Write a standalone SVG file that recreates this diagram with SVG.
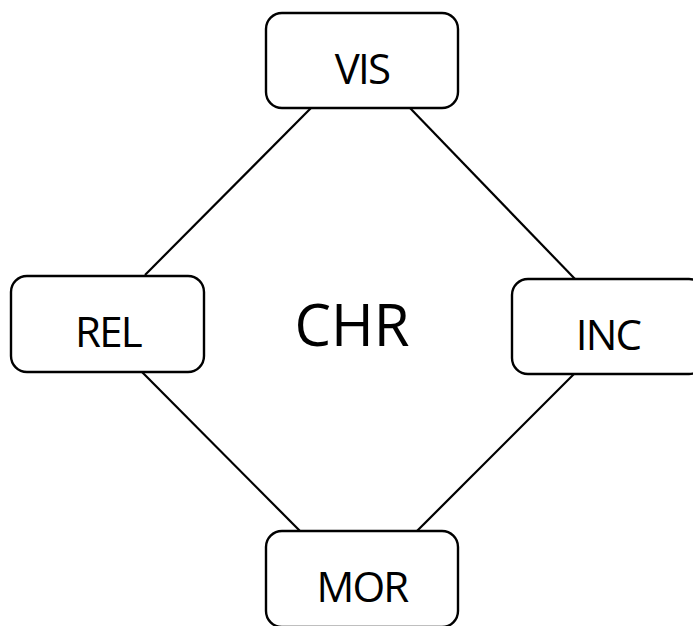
<svg xmlns="http://www.w3.org/2000/svg" width="693" height="626" viewBox="0 0 693 626">
<style>
.box{fill:#fff;stroke:#000;stroke-width:2.4}
.lbl{font-family:"Open Sans","Noto Sans",sans-serif;font-size:42px;font-weight:500;letter-spacing:-1.8px;text-anchor:middle;fill:#000}
.big{font-family:"Open Sans","Noto Sans",sans-serif;font-size:58px;font-weight:500;text-anchor:middle;fill:#000}
.edge{stroke:#000;stroke-width:2.2;fill:none}
</style>
<rect width="693" height="626" fill="#fff"/>
<g id="connectors">
<line class="edge" x1="311" y1="108" x2="145" y2="275"/>
<line class="edge" x1="410" y1="108" x2="575" y2="279"/>
<line class="edge" x1="142" y1="372" x2="300" y2="531"/>
<line class="edge" x1="574" y1="374" x2="417" y2="531"/>
</g>
<g id="VIS"><rect class="box" x="266" y="13" width="192" height="95" rx="16"/><text class="lbl" x="362" y="84">VIS</text></g>
<g id="REL"><rect class="box" x="11" y="276" width="193" height="96" rx="16"/><text class="lbl" x="108" y="347">REL</text></g>
<g id="INC"><rect class="box" x="512" y="279" width="193" height="95" rx="16"/><text class="lbl" x="608" y="350">INC</text></g>
<g id="MOR"><rect class="box" x="266" y="531" width="192" height="96" rx="16"/><text class="lbl" x="362" y="602">MOR</text></g>
<g id="CHR"><text class="big" x="352" y="346">CHR</text></g>
</svg>
